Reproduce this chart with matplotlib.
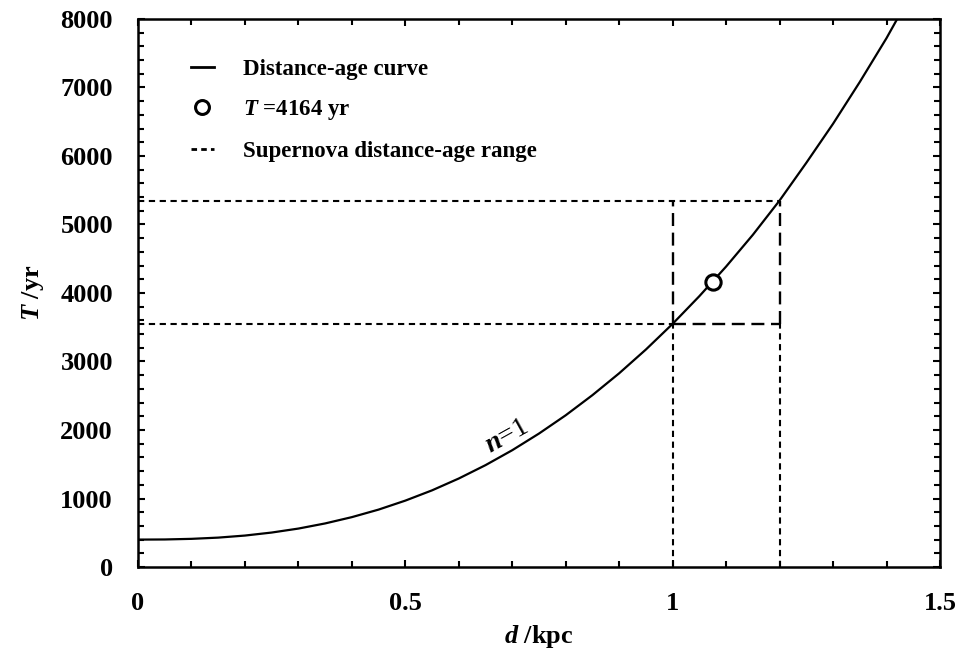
import matplotlib
matplotlib.use("Agg")
import matplotlib.pyplot as plt
from matplotlib.lines import Line2D
from matplotlib.ticker import MultipleLocator

# values
dist_kpc = [0.0, 0.05, 0.1, 0.15, 0.2, 0.25, 0.3, 0.35, 0.4, 0.45, 0.5,
            0.55, 0.6, 0.65, 0.7, 0.75, 0.8, 0.85, 0.9, 0.95, 1.0,
            1.05, 1.1, 1.15, 1.2, 1.25, 1.3, 1.35, 1.4, 1.42]
age_yr = [400, 402, 411, 429, 459, 503, 561, 636, 728, 838, 969,
          1119, 1292, 1487, 1705, 1948, 2215, 2509, 2828, 3175, 3550,
          3954, 4386, 4849, 5350, 5900, 6470, 7080, 7720, 8000]

point_d = 1.075
point_T = 4164

range_d = [1.0, 1.2]
range_T = [3550, 5350]

plt.rcParams['font.family'] = ['Liberation Serif', 'DejaVu Serif']
plt.rcParams['font.weight'] = 'bold'
plt.rcParams['mathtext.fontset'] = 'custom'
plt.rcParams['mathtext.rm'] = 'Liberation Serif'
plt.rcParams['mathtext.it'] = 'Liberation Serif:italic'
plt.rcParams['mathtext.bfit'] = 'Liberation Serif:italic:bold'
plt.rcParams['mathtext.bf'] = 'Liberation Serif:bold'

fig = plt.figure(figsize=(9.57, 6.59), dpi=100)
ax = fig.add_axes([0.1442, 0.1396, 0.8380, 0.8316])

short_dash = (0, (3.0, 2.2))
long_dash = (0, (5.5, 2.8))

# projections to the axes
ax.plot([0, range_d[1]], [range_T[1], range_T[1]], color='black', lw=1.5, linestyle=short_dash)
ax.plot([0, range_d[0]], [range_T[0], range_T[0]], color='black', lw=1.5, linestyle=short_dash)
ax.plot([range_d[0], range_d[0]], [0, range_T[0]], color='black', lw=1.5, linestyle=short_dash)
ax.plot([range_d[1], range_d[1]], [0, range_T[0]], color='black', lw=1.5, linestyle=short_dash)
# the box between the limits
ax.plot([range_d[0], range_d[1]], [range_T[0], range_T[0]], color='black', lw=1.7, linestyle=long_dash)
ax.plot([range_d[0], range_d[0]], [range_T[0], range_T[1]], color='black', lw=1.7, linestyle=long_dash)
ax.plot([range_d[1], range_d[1]], [range_T[0], range_T[1]], color='black', lw=1.7, linestyle=long_dash)

ax.plot(dist_kpc, age_yr, color='black', lw=1.6)
ax.plot([point_d], [point_T], marker='o', ms=11, mfc='white', mec='black', mew=2.2,
        linestyle='none', zorder=5)

ax.text(0.69, 1910, r'$n$=1', fontsize=20, fontweight='normal', rotation=29,
        ha='center', va='center', rotation_mode='anchor')

ax.set_xlim(0, 1.5)
ax.set_ylim(0, 8000)
ax.xaxis.set_minor_locator(MultipleLocator(0.1))
ax.yaxis.set_major_locator(MultipleLocator(1000))
ax.yaxis.set_minor_locator(MultipleLocator(200))
ax.set_xticks([0, 0.5, 1, 1.5])
ax.set_xticklabels(['0', '0.5', '1', '1.5'])

ax.tick_params(which='both', direction='in', top=True, right=True, width=1.5,
               labelsize=19)
ax.tick_params(which='major', length=5)
ax.tick_params(which='minor', length=4)
ax.tick_params(axis='x', pad=18)
ax.tick_params(axis='y', pad=18)
for side in ax.spines.values():
    side.set_linewidth(1.8)

ax.set_xlabel(r'$\mathbfit{d}$ /kpc', fontsize=19, fontweight='bold', labelpad=6)
ax.set_ylabel(r'$\mathbfit{T}$ /yr', fontsize=19, fontweight='bold', labelpad=10)

handles = [
    Line2D([], [], color='black', lw=2),
    Line2D([], [], marker='o', ms=10, mfc='white', mec='black', mew=2.2, linestyle='none'),
    Line2D([], [], color='black', lw=2, linestyle=(0, (2.0, 1.5))),
]
labels = ['Distance-age curve', r'$\mathbfit{T}$ =4164 yr', 'Supernova distance-age range']
ax.legend(handles, labels, loc='upper left', bbox_to_anchor=(0.04, 0.965), frameon=False,
          fontsize=16.5, handlelength=1.0, handletextpad=1.3, labelspacing=0.8)

fig.savefig('out.png', dpi=100)
